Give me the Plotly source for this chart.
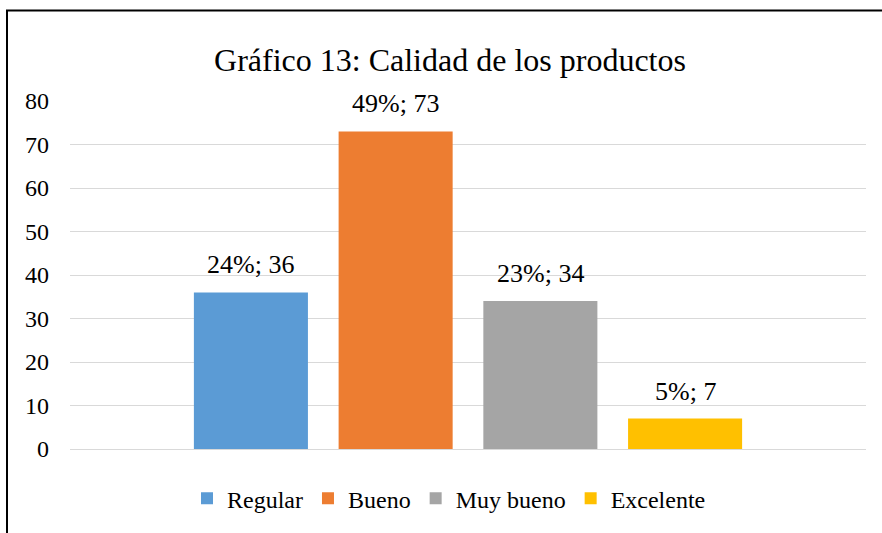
import plotly.graph_objects as go

categories = ["Regular", "Bueno", "Muy bueno", "Excelente"]
values = [36, 73, 34, 7]
colors = ["#5B9BD5", "#ED7D31", "#A5A5A5", "#FFC000"]
title_text = "Gráfico 13: Calidad de los productos"
y_ticks = [0, 10, 20, 30, 40, 50, 60, 70, 80]

total = sum(values)
labels = [f"{round(v / total * 100)}%; {v}" for v in values]

FONT = "Liberation Serif"

fig = go.Figure()
for cat, val, col in zip(categories, values, colors):
    fig.add_trace(go.Bar(x=[cat], y=[val], name=cat, marker_color=col,
                         marker_line_width=0))

for cat, val, lab in zip(categories, values, labels):
    fig.add_annotation(x=cat, y=val, text=lab, showarrow=False,
                       yanchor="bottom", yshift=11,
                       font=dict(family=FONT, size=26, color="#000000"))

W, H = 882, 533
ml, mr, mt, mb = 70, 16, 101, 82
pw, ph = W - ml - mr, H - mt - mb

def px_x(p):
    return (p - ml) / pw

def px_y(p):
    return (H - mb - p) / ph

fig.add_shape(type="path", xref="paper", yref="paper",
              path=f"M {px_x(7)} {px_y(540)} L {px_x(7)} {px_y(10)} L {px_x(890)} {px_y(10)}",
              line=dict(color="#000000", width=2), layer="above")

fig.update_layout(
    width=W, height=H,
    margin=dict(l=ml, r=mr, t=mt, b=mb),
    paper_bgcolor="white", plot_bgcolor="white",
    barmode="overlay", bargap=0.212,
    title=dict(text=title_text, x=450 / W, xanchor="center",
               y=1 - 60 / H, yanchor="middle",
               font=dict(family=FONT, size=32, color="#000000")),
    font=dict(family=FONT, color="#000000"),
    xaxis=dict(type="category", categoryorder="array", categoryarray=categories,
               range=[-1.25, 4.25], showticklabels=False, showgrid=False,
               zeroline=False, showline=False, ticks=""),
    yaxis=dict(range=[0, 80], tickvals=y_ticks, showgrid=True,
               gridcolor="#D9D9D9", gridwidth=1, zeroline=True,
               zerolinecolor="#D9D9D9", zerolinewidth=1, showline=False,
               ticks="", ticklabelstandoff=20,
               tickfont=dict(family=FONT, size=24, color="#000000")),
    legend=dict(orientation="h", x=px_x(449), xanchor="center",
                y=px_y(501), yanchor="middle",
                font=dict(family=FONT, size=24, color="#000000"),
                itemwidth=30, bgcolor="rgba(0,0,0,0)"),
    showlegend=True,
)

fig.write_html("out.html", config={"displayModeBar": False},
               post_script="document.body.style.margin='0px';document.body.style.padding='0px';")
